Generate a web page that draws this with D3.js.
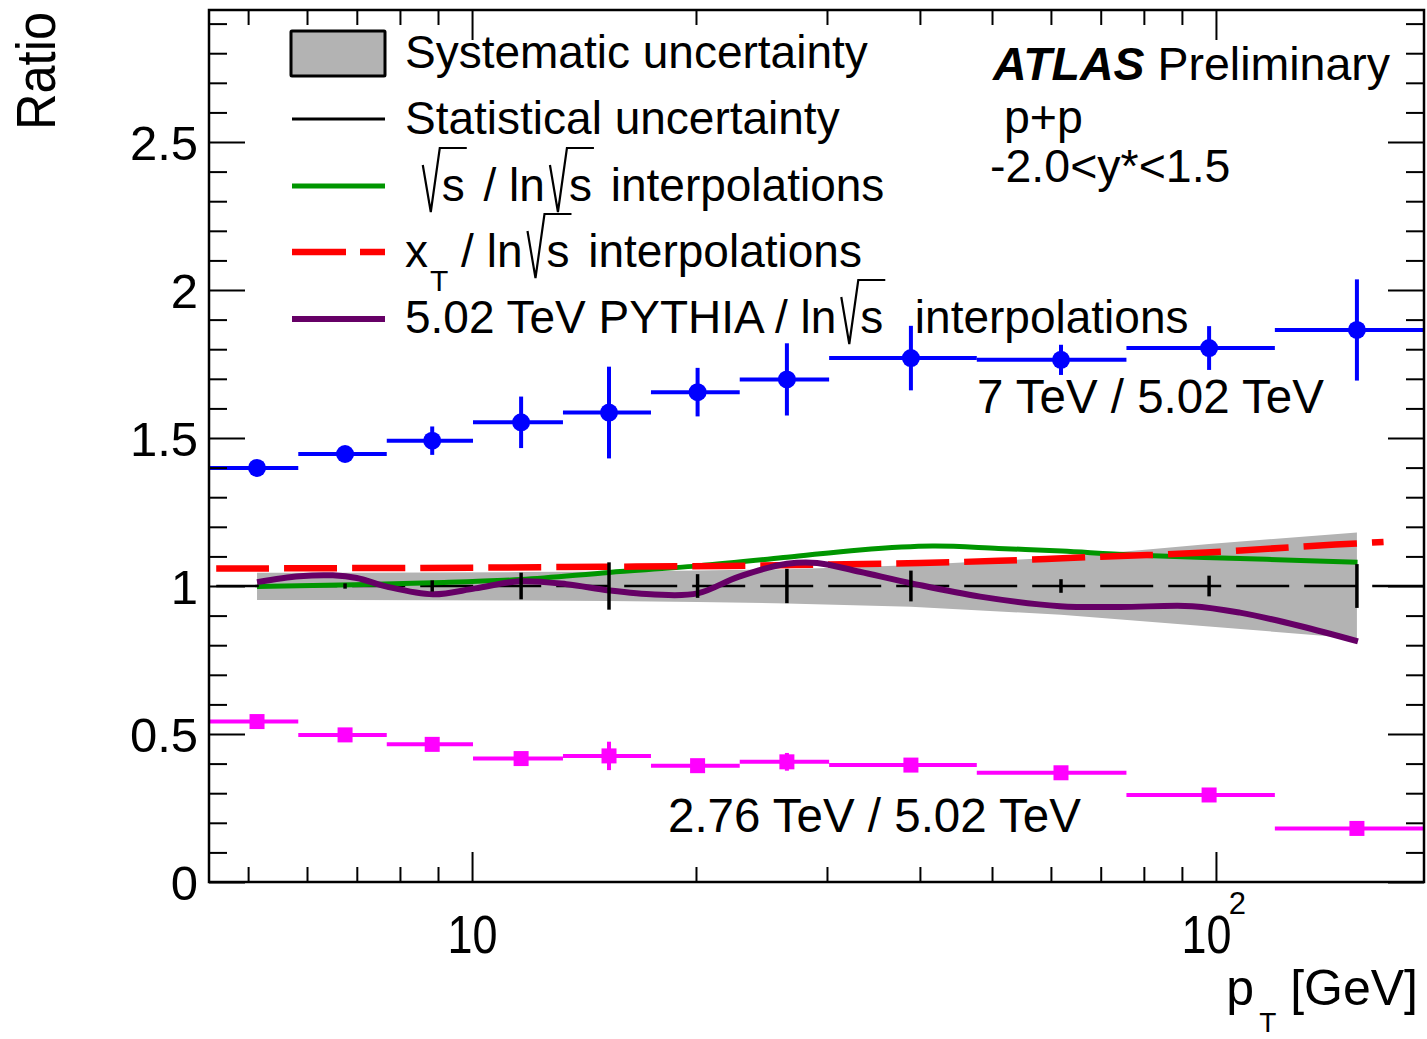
<!DOCTYPE html>
<html><head><meta charset="utf-8">
<script src="https://cdn.jsdelivr.net/npm/d3@7"></script>
<style>
body{margin:0;background:#fff}
svg{display:block}
text{font-family:"Liberation Sans",Arial,Helvetica,sans-serif;fill:#000}
</style>
</head><body>
<svg id="c" width="1427" height="1039"></svg>
<script>
// ---------------- data ----------------
const ptCenters = [5.14, 6.75, 8.84, 11.64, 15.28, 20.1, 26.5, 38.9, 61.9, 97.9, 154.7];
const binEdges  = [4.4, 5.84, 7.68, 10.03, 13.25, 17.4, 22.9, 30.2, 47.7, 75.8, 120, 195];
const ratio7      = [1.399, 1.446, 1.491, 1.553, 1.586, 1.655, 1.698, 1.770, 1.764, 1.804, 1.865];
const ratio7Err   = [0.015, 0.015, 0.048, 0.087, 0.155, 0.082, 0.122, 0.109, 0.051, 0.074, 0.171];
const ratio276    = [0.542, 0.497, 0.465, 0.417, 0.426, 0.393, 0.406, 0.395, 0.369, 0.294, 0.181];
const ratio276Err = [0.005, 0.005, 0.008, 0.010, 0.048, 0.010, 0.030, 0.010, 0.010, 0.010, 0.010];
const statErr   = [0.004, 0.009, 0.019, 0.045, 0.080, 0.040, 0.058, 0.052, 0.023, 0.035, 0.074];
const sysHigh   = [1.045, 1.045, 1.046, 1.047, 1.049, 1.052, 1.057, 1.070, 1.097, 1.142, 1.181];
const sysLow    = [0.953, 0.953, 0.952, 0.951, 0.949, 0.946, 0.941, 0.930, 0.903, 0.863, 0.823];

const sqrtsPt  = [5.14, 8.86, 11.64, 15.28, 20.1, 26.5, 33.2, 41.6, 51, 62, 77, 117, 155];
const sqrtsVal = [0.998, 1.011, 1.022, 1.046, 1.068, 1.097, 1.122, 1.135, 1.127, 1.118, 1.105, 1.090, 1.080];

const xtPt  = [4.53, 10, 15, 22, 29, 40, 51, 70, 86, 105, 130, 168];
const xtVal = [1.059, 1.062, 1.065, 1.068, 1.072, 1.078, 1.085, 1.099, 1.107, 1.118, 1.133, 1.149];

const pythiaPt  = [5.14, 5.86, 6.5, 7.0, 7.68, 8.86, 10.1, 11.6, 13.4, 15.28, 17.6, 20.1, 22.8, 26.5, 29.1, 33.2, 39.0, 48.2, 61.7, 74.3, 92.9, 107.7, 129.7, 155.2];
const pythiaVal = [1.013, 1.033, 1.036, 1.027, 0.998, 0.972, 0.992, 1.016, 1.006, 0.985, 0.971, 0.975, 1.031, 1.075, 1.078, 1.048, 1.009, 0.964, 0.932, 0.929, 0.932, 0.910, 0.865, 0.813];

const xDomain = [4.43, 190.4];
const yDomain = [0, 2.946];
const xMajor = [10, 100];
const xMinor = [5, 6, 7, 8, 9, 20, 30, 40, 50, 60, 70, 80, 90];
const yMajor = [0, 0.5, 1, 1.5, 2, 2.5];
const yMinor = d3.range(1, 30).map(i => i / 10).filter(v => Math.abs(v * 2 - Math.round(v * 2)) > 1e-6);

const legendLabels = ["Systematic uncertainty", "Statistical uncertainty"];
const labelHigh = "7 TeV / 5.02 TeV";
const labelLow = "2.76 TeV / 5.02 TeV";

// ---------------- layout ----------------
const L = 209, R = 1424, T = 10, B = 882;
const FS = 46;
const svg = d3.select("#c");
const x = d3.scaleLog().domain(xDomain).range([L, R]);
const y = d3.scaleLinear().domain(yDomain).range([B, T]);

svg.append("defs").append("clipPath").attr("id", "clip")
  .append("rect").attr("x", L).attr("y", T).attr("width", R - L).attr("height", B - T);
const plot = svg.append("g").attr("clip-path", "url(#clip)");
const idx = d3.range(ptCenters.length);

// systematic band
plot.append("path").datum(idx)
  .attr("d", d3.area().x(i => x(ptCenters[i])).y0(i => y(sysLow[i])).y1(i => y(sysHigh[i])))
  .attr("fill", "#b3b3b3");

// unity dashed line
plot.append("line")
  .attr("x1", x(4.53)).attr("x2", x(xDomain[1]))
  .attr("y1", y(1)).attr("y2", y(1))
  .attr("stroke", "#000").attr("stroke-width", 2.5).attr("stroke-dasharray", "53,15");

const curve = d3.curveCatmullRom.alpha(0.5);
function drawCurve(px, py, color, w, dash) {
  const p = plot.append("path").datum(d3.range(px.length))
    .attr("d", d3.line().x(i => x(px[i])).y(i => y(py[i])).curve(curve))
    .attr("fill", "none").attr("stroke", color).attr("stroke-width", w);
  if (dash) p.attr("stroke-dasharray", dash);
}
drawCurve(sqrtsPt, sqrtsVal, "#009600", 5);
drawCurve(xtPt, xtVal, "#ff0000", 6.5, "53,15");
drawCurve(pythiaPt, pythiaVal, "#660066", 6);

// statistical ticks at unity
plot.selectAll(".stat").data(idx).join("line")
  .attr("x1", i => x(ptCenters[i])).attr("x2", i => x(ptCenters[i]))
  .attr("y1", i => y(1 - statErr[i])).attr("y2", i => y(1 + statErr[i]))
  .attr("stroke", "#000").attr("stroke-width", 3.5);

// data series
function drawSeries(vals, errs, color, marker) {
  const g = plot.append("g");
  g.selectAll(".h").data(idx).join("line")
    .attr("x1", i => x(binEdges[i])).attr("x2", i => x(binEdges[i + 1]))
    .attr("y1", i => y(vals[i])).attr("y2", i => y(vals[i]))
    .attr("stroke", color).attr("stroke-width", 4);
  g.selectAll(".v").data(idx).join("line")
    .attr("x1", i => x(ptCenters[i])).attr("x2", i => x(ptCenters[i]))
    .attr("y1", i => y(vals[i] - errs[i])).attr("y2", i => y(vals[i] + errs[i]))
    .attr("stroke", color).attr("stroke-width", 4);
  if (marker === "circle") {
    g.selectAll("circle").data(idx).join("circle")
      .attr("cx", i => x(ptCenters[i])).attr("cy", i => y(vals[i])).attr("r", 9).attr("fill", color);
  } else {
    g.selectAll("rect").data(idx).join("rect")
      .attr("x", i => x(ptCenters[i]) - 7.5).attr("y", i => y(vals[i]) - 7.5)
      .attr("width", 15).attr("height", 15).attr("fill", color);
  }
}
drawSeries(ratio7, ratio7Err, "#0000ff", "circle");
drawSeries(ratio276, ratio276Err, "#ff00ff", "square");

// ---------------- axes ----------------
function styleAxis(g) {
  g.select(".domain").remove();
  g.selectAll(".tick line").attr("stroke", "#000").attr("stroke-width", 2);
  g.attr("font-size", null).attr("font-family", null);
}
svg.append("g").attr("transform", `translate(0,${B})`)
  .call(d3.axisBottom(x).tickValues(xMinor).tickSize(-15).tickFormat("")).call(styleAxis);
svg.append("g").attr("transform", `translate(0,${T})`)
  .call(d3.axisTop(x).tickValues(xMinor).tickSize(-15).tickFormat("")).call(styleAxis);
svg.append("g").attr("transform", `translate(0,${T})`)
  .call(d3.axisTop(x).tickValues(xMajor).tickSize(-30).tickFormat("")).call(styleAxis);
const xb = svg.append("g").attr("transform", `translate(0,${B})`)
  .call(d3.axisBottom(x).tickValues(xMajor).tickSize(-30).tickFormat("")).call(styleAxis);
xb.selectAll(".tick").each(function (d) {
  const t = d3.select(this);
  const txt = t.append("text").attr("y", 71).attr("font-size", 54)
    .attr("textLength", 50).attr("lengthAdjust", "spacingAndGlyphs")
    .attr("text-anchor", "middle").text("10");
  if (d === 100) {
    txt.attr("x", -10);
    t.append("text").attr("x", 21).attr("y", 32).attr("font-size", 31).text("2");
  }
});

svg.append("g").attr("transform", `translate(${L},0)`)
  .call(d3.axisLeft(y).tickValues(yMinor).tickSize(-18).tickFormat("")).call(styleAxis);
svg.append("g").attr("transform", `translate(${R},0)`)
  .call(d3.axisRight(y).tickValues(yMinor).tickSize(-18).tickFormat("")).call(styleAxis);
svg.append("g").attr("transform", `translate(${R},0)`)
  .call(d3.axisRight(y).tickValues(yMajor).tickSize(-36).tickFormat("")).call(styleAxis);
const yl = svg.append("g").attr("transform", `translate(${L},0)`)
  .call(d3.axisLeft(y).tickValues(yMajor).tickSize(-36).tickPadding(11).tickFormat(d3.format("")))
  .call(styleAxis);
yl.selectAll(".tick text").attr("font-size", 49)
  .attr("dy", null).attr("y", 17).attr("fill", "#000");

// frame
svg.append("rect").attr("x", L).attr("y", T).attr("width", R - L).attr("height", B - T)
  .attr("fill", "none").attr("stroke", "#000").attr("stroke-width", 2.5);

// axis titles
svg.append("text").attr("transform", "translate(55,12) rotate(-90)")
  .attr("text-anchor", "end").attr("font-size", 56)
  .attr("textLength", 118).attr("lengthAdjust", "spacingAndGlyphs").text("Ratio");

// rich text helper
function rich(g, x0, base, parts, fs) {
  let cx = x0;
  parts.forEach(p => {
    if (typeof p === "string") {
      const t = g.append("text").attr("x", cx).attr("y", base).attr("font-size", fs)
        .style("white-space", "pre").text(p);
      cx += t.node().getComputedTextLength();
    } else if (p.sqrt) {
      const x0r = cx + 5;
      const t = g.append("text").attr("x", x0r + 19).attr("y", base).attr("font-size", fs).text(p.sqrt);
      const w = t.node().getComputedTextLength();
      g.append("path")
        .attr("d", `M${x0r},${base - 36}L${x0r + 8},${base + 11}L${x0r + 17},${base - 53}H${x0r + 19 + w + 2}`)
        .attr("fill", "none").attr("stroke", "#000").attr("stroke-width", 2.2);
      cx = x0r + 19 + w + 6;
    } else if (p.sub) {
      const t = g.append("text").attr("x", cx + (p.dx || 0)).attr("y", base + p.dy).attr("font-size", p.fs).text(p.sub);
      cx += (p.dx || 0) + t.node().getComputedTextLength();
    }
  });
  return cx;
}

// x title, right aligned at 1418
const xt = svg.append("g");
const xEnd = rich(xt, 0, 1005, ["p", {sub: "T", dy: 27, fs: 28, dx: 5}, " [GeV]"], 50);
xt.attr("transform", `translate(${1418 - xEnd},0)`);

// ---------------- legend ----------------
const lg = svg.append("g");
const rowBase = [68, 134, 201, 267, 333];
const symY = [53, 119, 186, 252, 319];
lg.append("rect").attr("x", 291).attr("y", 31).attr("width", 94).attr("height", 45)
  .attr("fill", "#b3b3b3").attr("stroke", "#000").attr("stroke-width", 3).attr("rx", 1);
lg.append("line").attr("x1", 292).attr("x2", 385).attr("y1", symY[1]).attr("y2", symY[1])
  .attr("stroke", "#000").attr("stroke-width", 3);
lg.append("line").attr("x1", 292).attr("x2", 385).attr("y1", symY[2]).attr("y2", symY[2])
  .attr("stroke", "#009600").attr("stroke-width", 5);
lg.append("line").attr("x1", 292).attr("x2", 385).attr("y1", symY[3]).attr("y2", symY[3])
  .attr("stroke", "#ff0000").attr("stroke-width", 6.5).attr("stroke-dasharray", "54,14");
lg.append("line").attr("x1", 292).attr("x2", 385).attr("y1", symY[4]).attr("y2", symY[4])
  .attr("stroke", "#660066").attr("stroke-width", 6);

rich(lg, 405, rowBase[0], [legendLabels[0]], FS);
rich(lg, 405, rowBase[1], [legendLabels[1]], FS);
rich(lg, 405, rowBase[2], [" ", {sqrt: "s"}, " / ln", {sqrt: "s"}, " interpolations"], FS);
rich(lg, 405, rowBase[3], ["x", {sub: "T", dy: 24, fs: 30, dx: 2}, " / ln", {sqrt: "s"}, " interpolations"], FS);
rich(lg, 405, rowBase[4], ["5.02 TeV PYTHIA / ln", {sqrt: "s"}, "  interpolations"], FS);

// ---------------- annotations ----------------
const at = svg.append("text").attr("x", 993).attr("y", 80).attr("font-size", 46.5);
at.append("tspan").attr("font-weight", "bold").attr("font-style", "italic").text("ATLAS");
at.append("tspan").text(" Preliminary");
svg.append("text").attr("x", 1004).attr("y", 133).attr("font-size", 46.5).text("p+p");
svg.append("text").attr("x", 990).attr("y", 182).attr("font-size", 46.5).text("-2.0<y*<1.5");
svg.append("text").attr("x", 977).attr("y", 413).attr("font-size", 47.5).text(labelHigh);
svg.append("text").attr("x", 668).attr("y", 832).attr("font-size", 47.5).text(labelLow);
</script>
</body></html>
